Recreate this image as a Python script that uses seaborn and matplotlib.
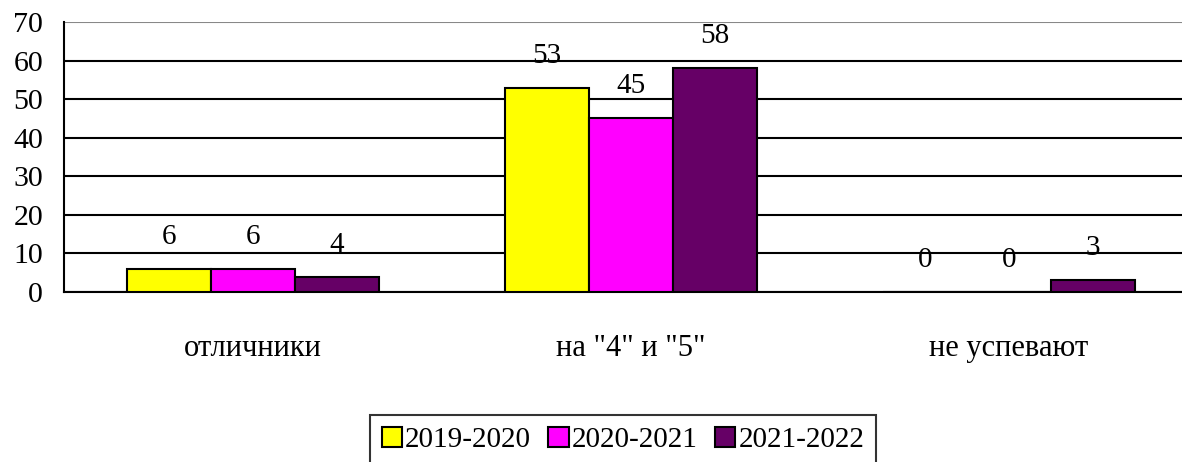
import matplotlib
matplotlib.use("Agg")
import matplotlib.pyplot as plt
import seaborn as sns
import pandas as pd

categories = ['отличники', 'на "4" и "5"', 'не успевают']
years = ['2019-2020', '2020-2021', '2021-2022']
values_2019 = [6, 53, 0]
values_2020 = [6, 45, 0]
values_2021 = [4, 58, 3]
colors = ['#FFFF00', '#FF00FF', '#660066']

rows = []
for year, vals in zip(years, [values_2019, values_2020, values_2021]):
    for cat, v in zip(categories, vals):
        rows.append({'cat': cat, 'year': year, 'value': v})
df = pd.DataFrame(rows)

sns.set_style('white')
plt.rcParams['font.family'] = ['Liberation Serif', 'DejaVu Serif']
plt.rcParams['text.color'] = 'black'
plt.rcParams['xtick.color'] = 'black'
plt.rcParams['ytick.color'] = 'black'

fig = plt.figure(figsize=(11.82, 4.62), dpi=100)
ax = fig.add_axes([64 / 1182, 1 - 292 / 462, 1134 / 1182, 270 / 462])

sns.barplot(data=df, x='cat', y='value', hue='year', palette=colors,
            width=2 / 3, edgecolor='black', linewidth=1.5, saturation=1,
            ax=ax, zorder=3)

# value labels above every bar (zeros included)
for container in ax.containers:
    for bar in container:
        h = bar.get_height()
        ax.annotate(f'{h:g}', (bar.get_x() + bar.get_width() / 2, h),
                    xytext=(0, 23), textcoords='offset points',
                    ha='center', va='center', fontsize=21, color='black', zorder=4)

ax.set_ylim(0, 70)
ax.set_xlim(-0.5, 2.5)
ax.set_yticks(range(0, 71, 10))
ax.yaxis.grid(True, color='black', linewidth=1.5, zorder=0)
ax.get_ygridlines()[-1].set_color('#888888')
ax.set_axisbelow(True)

ax.set_xticks([0, 1, 2])
ax.set_xticklabels(categories)
ax.set_xticks([-0.5, 0.5, 1.5, 2.5], minor=True)
ax.tick_params(axis='x', which='major', length=0, pad=30, labelsize=22)
ax.tick_params(axis='x', which='minor', length=7, width=1.5, color='black', direction='out')
ax.tick_params(axis='y', length=7, width=1.5, color='black', direction='out',
               labelsize=21.5, pad=8)
ax.set_xlabel('')
ax.set_ylabel('')

for side in ['top', 'right']:
    ax.spines[side].set_visible(False)
for side in ['left', 'bottom']:
    ax.spines[side].set_color('black')
    ax.spines[side].set_linewidth(1.5)

ax.get_legend().remove()
handles, labels = ax.get_legend_handles_labels()
leg = fig.legend(handles, labels, loc='upper center', bbox_to_anchor=(0.527, 0.102),
                 ncol=3, fontsize=21, frameon=True, fancybox=False,
                 handlelength=0.7, handleheight=0.7, handletextpad=0.1,
                 columnspacing=0.6, borderpad=0.4, borderaxespad=0)
leg.get_frame().set_edgecolor('black')
leg.get_frame().set_linewidth(1.5)

fig.savefig('out.png', dpi=100)
